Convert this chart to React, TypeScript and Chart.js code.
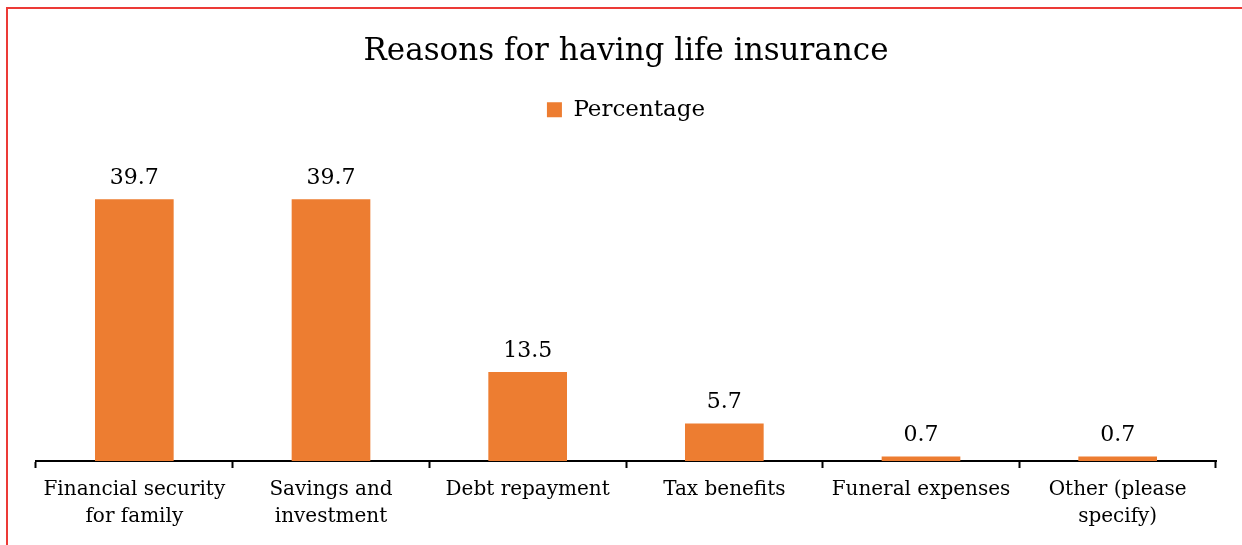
import React, { useEffect, useRef } from "react";
import { Chart, registerables } from "chart.js";

Chart.register(...registerables);

const categories: string[][] = [
  ["Financial security", "for family"],
  ["Savings and", "investment"],
  ["Debt repayment"],
  ["Tax benefits"],
  ["Funeral expenses"],
  ["Other (please", "specify)"],
];
const percentages: number[] = [39.7, 39.7, 13.5, 5.7, 0.7, 0.7];
const seriesName = "Percentage";
const chartTitle = "Reasons for having life insurance";

const FONT = "'DejaVu Serif', serif";

const valueLabels = {
  id: "valueLabels",
  afterDatasetsDraw(chart: any) {
    const ctx = chart.ctx;
    const meta = chart.getDatasetMeta(0);
    ctx.save();
    ctx.font = `22px ${FONT}`;
    ctx.fillStyle = "#000";
    ctx.textAlign = "center";
    ctx.textBaseline = "bottom";
    meta.data.forEach((bar: any, i: number) => {
      const v = chart.data.datasets[0].data[i];
      ctx.fillText(String(v.toFixed(1)), bar.x, bar.y - 10);
    });
    ctx.restore();
  },
};

export default function App() {
  const ref = useRef<HTMLCanvasElement | null>(null);
  useEffect(() => {
    if (!ref.current) return;
    const chart = new Chart(ref.current, {
      type: "bar",
      data: {
        labels: categories,
        datasets: [
          {
            label: seriesName,
            data: percentages,
            backgroundColor: "#ED7D31",
            categoryPercentage: 0.4,
            barPercentage: 1,
          },
        ],
      },
      options: {
        animation: false,
        responsive: false,
        maintainAspectRatio: false,
        layout: { padding: { left: 36, right: 26, top: 0, bottom: 7 } },
        plugins: {
          title: {
            display: true,
            text: chartTitle,
            color: "#000",
            font: { family: FONT, size: 31, weight: "normal" },
            padding: { top: 33, bottom: 18 },
          },
          legend: {
            display: true,
            labels: {
              color: "#000",
              font: { family: FONT, size: 23 },
              boxWidth: 15,
              boxHeight: 15,
              padding: 10,
            },
          },
          tooltip: { enabled: false },
        },
        scales: {
          x: {
            border: { display: true, color: "#000", width: 2 },
            grid: {
              display: true,
              offset: true,
              drawOnChartArea: false,
              drawTicks: true,
              tickLength: 7,
              tickColor: "#000",
              tickWidth: 2,
            },
            ticks: {
              color: "#000",
              font: { family: FONT, size: 20, lineHeight: 1.35 },
              maxRotation: 0,
              autoSkip: false,
              padding: 8,
            },
          },
          y: {
            display: false,
            min: 0,
            max: 50,
          },
        },
      },
      plugins: [valueLabels],
    });
    return () => chart.destroy();
  }, []);
  return (
    <div style={{ position: "absolute", left: 0, top: 0, width: 1242, height: 545, background: "#fff" }}>
      <canvas ref={ref} width={1242} height={545} style={{ position: "absolute", left: 0, top: 0 }} />
      <div
        style={{
          position: "absolute",
          left: 6,
          top: 7,
          width: 1236,
          height: 538,
          borderLeft: "2px solid #EC3A36",
          borderTop: "2px solid #EC3A36",
          boxSizing: "border-box",
          pointerEvents: "none",
        }}
      />
    </div>
  );
}
